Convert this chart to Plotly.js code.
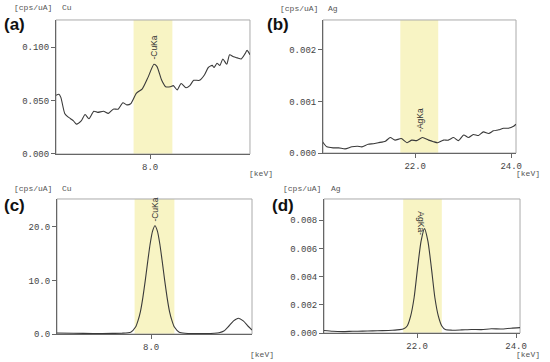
<!DOCTYPE html>
<html>
<head>
<meta charset="utf-8">
<script src="https://cdn.plot.ly/plotly-3.0.1.min.js"></script>
<style>html,body{margin:0;padding:0;background:#fff;}#chart{width:550px;height:362px;}</style>
</head>
<body>
<div id="chart"></div>
<script>
// Panel (a): Cu, low signal
var aEnergy = [7.03,7.06,7.08,7.12,7.15,7.18,7.21,7.24,7.29,7.33,7.37,7.42,7.46,7.52,7.57,7.62,7.67,7.72,7.76,7.80,7.86,7.92,7.98,8.04,8.07,8.12,8.16,8.21,8.24,8.28,8.32,8.37,8.41,8.45,8.51,8.56,8.60,8.64,8.66,8.69,8.72,8.75,8.79,8.82,8.86,8.90,8.94,8.98,9.00,9.03];
var aCounts = [0.055,0.056,0.053,0.038,0.035,0.033,0.031,0.028,0.031,0.037,0.033,0.040,0.039,0.040,0.038,0.042,0.042,0.048,0.046,0.047,0.057,0.061,0.072,0.084,0.082,0.069,0.063,0.063,0.064,0.060,0.066,0.062,0.064,0.069,0.069,0.074,0.081,0.083,0.081,0.085,0.083,0.089,0.084,0.093,0.091,0.090,0.089,0.094,0.097,0.093];
// Panel (b): Ag, low signal
var bEnergy = [20.07,20.16,20.29,20.41,20.54,20.68,20.80,20.89,21.02,21.13,21.23,21.38,21.48,21.58,21.71,21.83,21.93,22.03,22.15,22.28,22.38,22.47,22.59,22.69,22.80,22.90,23.01,23.11,23.21,23.32,23.42,23.53,23.63,23.74,23.84,23.94,24.05,24.10];
var bCounts = [0.00022,0.00012,0.00010,0.00010,0.00008,0.00012,0.00013,0.00012,0.00017,0.00018,0.00020,0.00023,0.00030,0.00025,0.00028,0.00020,0.00025,0.00024,0.00030,0.00025,0.00022,0.00020,0.00025,0.00025,0.00030,0.00024,0.00035,0.00030,0.00036,0.00034,0.00041,0.00038,0.00043,0.00045,0.00048,0.00048,0.00052,0.00056];
// Panel (c): Cu, strong signal
var cEnergy = [7.03,7.2,7.4,7.6,7.7,7.79,7.84,7.865,7.89,7.915,7.94,7.965,7.99,8.015,8.04,8.065,8.09,8.115,8.14,8.165,8.19,8.215,8.24,8.29,8.35,8.45,8.55,8.65,8.7,8.75,8.8,8.85,8.9,8.95,9.0,9.04];
var cCounts = [0.2,0.15,0.1,0.12,0.15,0.35,1.3,2.5,4.2,6.8,10.0,13.5,16.8,19.2,20.2,19.2,16.8,13.5,10.0,6.8,4.2,2.5,1.3,0.35,0.15,0.1,0.1,0.15,0.25,0.55,1.45,2.45,2.95,2.45,1.45,0.75];
// Panel (d): Ag, strong signal
var dEnergy = [20.12,20.3,20.5,20.7,20.9,21.1,21.3,21.5,21.65,21.73,21.8,21.87,21.94,22.01,22.08,22.15,22.22,22.29,22.36,22.43,22.5,22.57,22.7,22.9,23.1,23.3,23.5,23.7,23.9,24.08];
var dCounts = [0.00018,0.00012,0.00010,0.00012,0.00013,0.00015,0.00017,0.00020,0.00024,0.00030,0.00050,0.00120,0.00250,0.00460,0.00650,0.00740,0.00650,0.00460,0.00250,0.00120,0.00050,0.00025,0.00020,0.00022,0.00025,0.00024,0.00030,0.00028,0.00034,0.00038];

var aBand = [7.83, 8.23], bBand = [21.69, 22.48], cBand = [7.83, 8.24], dBand = [21.72, 22.5];
var xTicksCu = [8.0], xTickTextCu = ['8.0'];
var xTicksAg = [22.0, 24.0], xTickTextAg = ['22.0', '24.0'];
var aYTicks = [0, 0.05, 0.1], aYText = ['0.000', '0.050', '0.100'];
var bYTicks = [0, 0.001, 0.002], bYText = ['0.000', '0.001', '0.002'];
var cYTicks = [0, 10, 20], cYText = ['0.0', '10.0', '20.0'];
var dYTicks = [0, 0.002, 0.004, 0.006, 0.008], dYText = ['0.000', '0.002', '0.004', '0.006', '0.008'];

var lineStyle = {color: '#3a3a3a', width: 1.1, shape: 'spline', smoothing: 0.6};
var traces = [
  {x: aEnergy, y: aCounts, xaxis: 'x', yaxis: 'y', mode: 'lines', line: lineStyle, hoverinfo: 'none'},
  {x: bEnergy, y: bCounts, xaxis: 'x2', yaxis: 'y2', mode: 'lines', line: lineStyle, hoverinfo: 'none'},
  {x: cEnergy, y: cCounts, xaxis: 'x3', yaxis: 'y3', mode: 'lines', line: lineStyle, hoverinfo: 'none'},
  {x: dEnergy, y: dCounts, xaxis: 'x4', yaxis: 'y4', mode: 'lines', line: lineStyle, hoverinfo: 'none'}
];

var tickFont = {family: 'Liberation Mono, DejaVu Sans Mono, monospace', size: 9, color: '#444'};
function ax(domain, range, tv, tt) {
  return {domain: domain, range: range, tickmode: 'array', tickvals: tv, ticktext: tt,
    showline: true, linecolor: '#666', linewidth: 1, ticks: 'outside', ticklen: 4, tickcolor: '#666',
    tickfont: tickFont, showgrid: false, zeroline: false, fixedrange: true};
}

var layout = {
  width: 550, height: 362, autosize: false, showlegend: false,
  margin: {l: 0, r: 0, t: 0, b: 0},
  paper_bgcolor: '#fff', plot_bgcolor: '#fff',
  xaxis: ax([0.1018, 0.4545], [7.03, 9.03], xTicksCu, xTickTextCu),
  yaxis: ax([0.5746, 0.9448], [0, 0.1255], aYTicks, aYText),
  xaxis2: ax([0.5873, 0.9382], [20.08, 24.1], xTicksAg, xTickTextAg),
  yaxis2: ax([0.5773, 0.9448], [0, 0.00258], bYTicks, bYText),
  xaxis3: ax([0.1036, 0.4582], [7.03, 9.04], xTicksCu, xTickTextCu),
  yaxis3: ax([0.0773, 0.4503], [0, 25.2], cYTicks, cYText),
  xaxis4: ax([0.5891, 0.9455], [20.12, 24.08], xTicksAg, xTickTextAg),
  yaxis4: ax([0.0801, 0.4503], [0, 0.0095], dYTicks, dYText),
  shapes: [],
  annotations: []
};
layout.xaxis.anchor = 'y'; layout.yaxis.anchor = 'x';
layout.xaxis2.anchor = 'y2'; layout.yaxis2.anchor = 'x2';
layout.xaxis3.anchor = 'y3'; layout.yaxis3.anchor = 'x3';
layout.xaxis4.anchor = 'y4'; layout.yaxis4.anchor = 'x4';

var bands = [[aBand, 'x', 'y'], [bBand, 'x2', 'y2'], [cBand, 'x3', 'y3'], [dBand, 'x4', 'y4']];
bands.forEach(function (b) {
  layout.shapes.push({type: 'rect', xref: b[1], yref: b[2] + ' domain', x0: b[0][0], x1: b[0][1], y0: 0, y1: 1,
    fillcolor: '#f8f4c4', line: {width: 0}, layer: 'below'});
  layout.shapes.push({type: 'rect', xref: b[1] + ' domain', yref: b[2] + ' domain', x0: 0, x1: 1, y0: 0, y1: 1,
    line: {color: '#aaa', width: 1}, layer: 'below'});
});

var monoFont = {family: 'Liberation Mono, DejaVu Sans Mono, monospace', size: 8, color: '#555'};
var labelFont = {family: 'Liberation Sans, Arial, sans-serif', size: 17, color: '#111'};
var peakFont = {family: 'Liberation Sans, Arial, sans-serif', size: 8.5, color: '#333'};
function note(text, x, y, font, xa, ya, extra) {
  var o = {text: text, x: x, y: y, xref: 'paper', yref: 'paper', showarrow: false, font: font,
    xanchor: xa || 'left', yanchor: ya || 'middle'};
  if (extra) for (var k in extra) o[k] = extra[k];
  layout.annotations.push(o);
}
// unit labels
note('[cps/uA]  Cu', 12 / 550, 1 - 8 / 362, monoFont);
note('[cps/uA]  Ag', 278 / 550, 1 - 9 / 362, monoFont);
note('[cps/uA]  Cu', 12 / 550, 1 - 188 / 362, monoFont);
note('[cps/uA]  Ag', 281 / 550, 1 - 188 / 362, monoFont);
note('[keV]', 275 / 550, 1 - 173 / 362, monoFont, 'right');
note('[keV]', 542 / 550, 1 - 173 / 362, monoFont, 'right');
note('[keV]', 276 / 550, 1 - 354 / 362, monoFont, 'right');
note('[keV]', 542 / 550, 1 - 354 / 362, monoFont, 'right');
// panel labels
note('<b>(a)</b>', 2 / 550, 1 - 24 / 362, labelFont);
note('<b>(b)</b>', 265 / 550, 1 - 24 / 362, labelFont);
note('<b>(c)</b>', 2 / 550, 1 - 205 / 362, labelFont);
note('<b>(d)</b>', 270 / 550, 1 - 205 / 362, labelFont);
// peak labels
layout.annotations.push({text: '-CuKa', x: 8.04, y: 0.0865, xref: 'x', yref: 'y', showarrow: false, textangle: -90, font: peakFont, xanchor: 'center', yanchor: 'bottom'});
layout.annotations.push({text: '-AgKa', x: 22.1, y: 0.00037, xref: 'x2', yref: 'y2', showarrow: false, textangle: -90, font: peakFont, xanchor: 'center', yanchor: 'bottom'});
layout.annotations.push({text: '-CuKa', x: 8.04, y: 20.6, xref: 'x3', yref: 'y3', showarrow: false, textangle: -90, font: peakFont, xanchor: 'center', yanchor: 'bottom'});
layout.annotations.push({text: 'AgKa-', x: 22.09, y: 0.0088, xref: 'x4', yref: 'y4', showarrow: false, textangle: 90, font: peakFont, xanchor: 'center', yanchor: 'top'});

Plotly.newPlot('chart', traces, layout, {staticPlot: true, displayModeBar: false});
</script>
</body>
</html>
